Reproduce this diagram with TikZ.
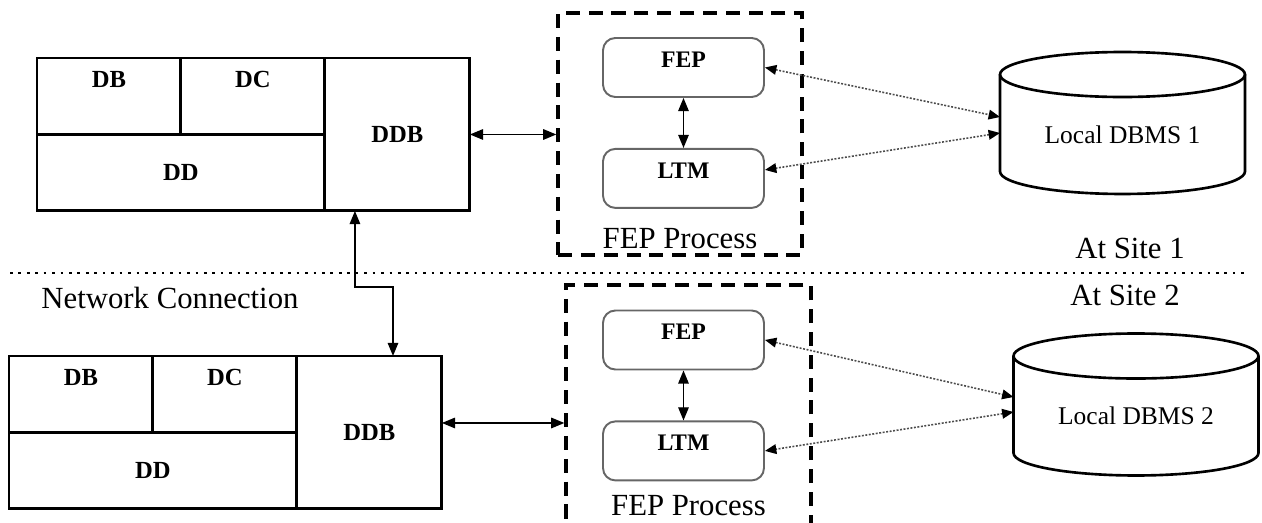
\documentclass[tikz,border=0pt]{standalone}
\usepackage{fontspec}
\setmainfont{Liberation Serif}
\usetikzlibrary{arrows.meta,positioning,calc}
\definecolor{boxgray}{gray}{0.4}
\definecolor{linegray}{gray}{0.3}

\begin{document}
\begin{tikzpicture}[x=0.02cm, y=-0.02cm, >={Triangle[length=7.5pt,width=6pt]}]
\tikzset{
  cell/.style     = {draw, line width=1.7pt, outer sep=0pt, inner sep=0pt,
                     font=\fontsize{14}{16}\selectfont\bfseries},
  cell top/.style = {cell, text height=9pt, text depth=18.5pt},
  module/.style   = {draw=boxgray, line width=1.1pt, rounded corners=7pt,
                     minimum width=3.22cm, minimum height=1.18cm,
                     text height=9pt, text depth=9pt,
                     font=\fontsize{13.5}{16}\selectfont\bfseries},
  process/.style  = {draw, line width=1.9pt, dash pattern=on 8pt off 5pt},
  dbms/.style     = {minimum width=4.9cm, minimum height=2.84cm, outer sep=0pt,
                     text height=23pt, text depth=0pt,
                     font=\fontsize{14.5}{17}\selectfont},
  cyl/.style      = {line width=1.5pt},
  caption/.style  = {font=\fontsize{17.5}{20}\selectfont},
  link/.style     = {<->, line width=0.8pt},
  query/.style    = {{Triangle[length=6.5pt,width=5.5pt,color=black]}-{Triangle[length=6.5pt,width=5.5pt,color=black]},
                     draw=linegray, line width=0.9pt, dash pattern=on 1.1pt off 0.9pt},
  sitesep/.style  = {line width=1.5pt, dash pattern=on 1.5pt off 3.3pt}
}
\clip (0,0) rectangle (1262,523);

% Site 1
\node[cell top, minimum width=2.88cm, minimum height=1.53cm, anchor=north west] (db1) at (37,58) {DB};
\node[cell top, minimum width=2.88cm, minimum height=1.53cm, right=0pt of db1] (dc1) {DC};
\node[cell, minimum width=5.76cm, minimum height=1.53cm, below=0pt of db1.south west, anchor=north west] (dd1) {DD};
\node[cell, minimum width=2.9cm, minimum height=3.06cm, right=0pt of dc1.north east, anchor=north west] (ddb1) {DDB};

\node[process, minimum width=4.88cm, minimum height=4.84cm,
      label={[caption, anchor=south, yshift=1pt]south:FEP Process}] (proc1) at (680,134) {};
\node[module] (fep1) at (683.5,67.5) {FEP};
\node[module, below=1cm of fep1] (ltm1) {LTM};

\node[dbms] (dbms1) at (1122.5,123) {Local DBMS 1};
\draw[cyl] ([yshift=-0.45cm]dbms1.north) ellipse [x radius=2.45cm, y radius=0.45cm];
\draw[cyl] ([yshift=-0.45cm]dbms1.north west) -- ([yshift=0.45cm]dbms1.south west)
  arc [start angle=180, end angle=360, x radius=2.45cm, y radius=0.45cm]
  -- ([yshift=-0.45cm]dbms1.north east);
\node[caption] (site1) at (1130,248) {At Site 1};

\draw[link] (ddb1.east) -- (ddb1.east -| proc1.west);
\draw[link] (fep1) -- (ltm1);
\draw[query] (fep1.east) -- ([yshift=0.12cm]dbms1.west);
\draw[query] ([yshift=-0.2cm]dbms1.west) -- ([yshift=0.17cm]ltm1.east);

% border between the sites
\draw[sitesep] (10,273) -- (1248,273);
\node[caption] (site2) at (1125,295) {At Site 2};
\node[caption] (netlabel) at (170,298) {Network Connection};

% Site 2
\node[cell top, minimum width=2.88cm, minimum height=1.53cm, anchor=north west] (db2) at (9,356) {DB};
\node[cell top, minimum width=2.88cm, minimum height=1.53cm, right=0pt of db2] (dc2) {DC};
\node[cell, minimum width=5.76cm, minimum height=1.53cm, below=0pt of db2.south west, anchor=north west] (dd2) {DD};
\node[cell, minimum width=2.9cm, minimum height=3.06cm, right=0pt of dc2.north east, anchor=north west] (ddb2) {DDB};

\node[process, minimum width=4.9cm, minimum height=5cm,
      label={[caption, anchor=south, yshift=0.3cm]south:FEP Process}] (proc2) at (688.5,410) {};
\node[module] (fep2) at (683.5,340) {FEP};
\node[module, below=1cm of fep2] (ltm2) {LTM};

\node[dbms] (dbms2) at (1136,404.5) {Local DBMS 2};
\draw[cyl] ([yshift=-0.45cm]dbms2.north) ellipse [x radius=2.45cm, y radius=0.45cm];
\draw[cyl] ([yshift=-0.45cm]dbms2.north west) -- ([yshift=0.45cm]dbms2.south west)
  arc [start angle=180, end angle=360, x radius=2.45cm, y radius=0.45cm]
  -- ([yshift=-0.45cm]dbms2.north east);

\draw[link] ([yshift=0.19cm]ddb2.east) coordinate (ddb2out) -- (ddb2out -| proc2.west);
\draw[link] (fep2) -- (ltm2);
\draw[query] (fep2.east) -- ([yshift=0.15cm]dbms2.west);
\draw[query] ([yshift=-0.15cm]dbms2.west) -- (ltm2.east);

% network connection
\coordinate (netbend) at (393,287);
\draw[link] ([xshift=0.6cm]ddb1.south west) |- (netbend) -- (netbend |- ddb2.north);
\end{tikzpicture}
\end{document}
